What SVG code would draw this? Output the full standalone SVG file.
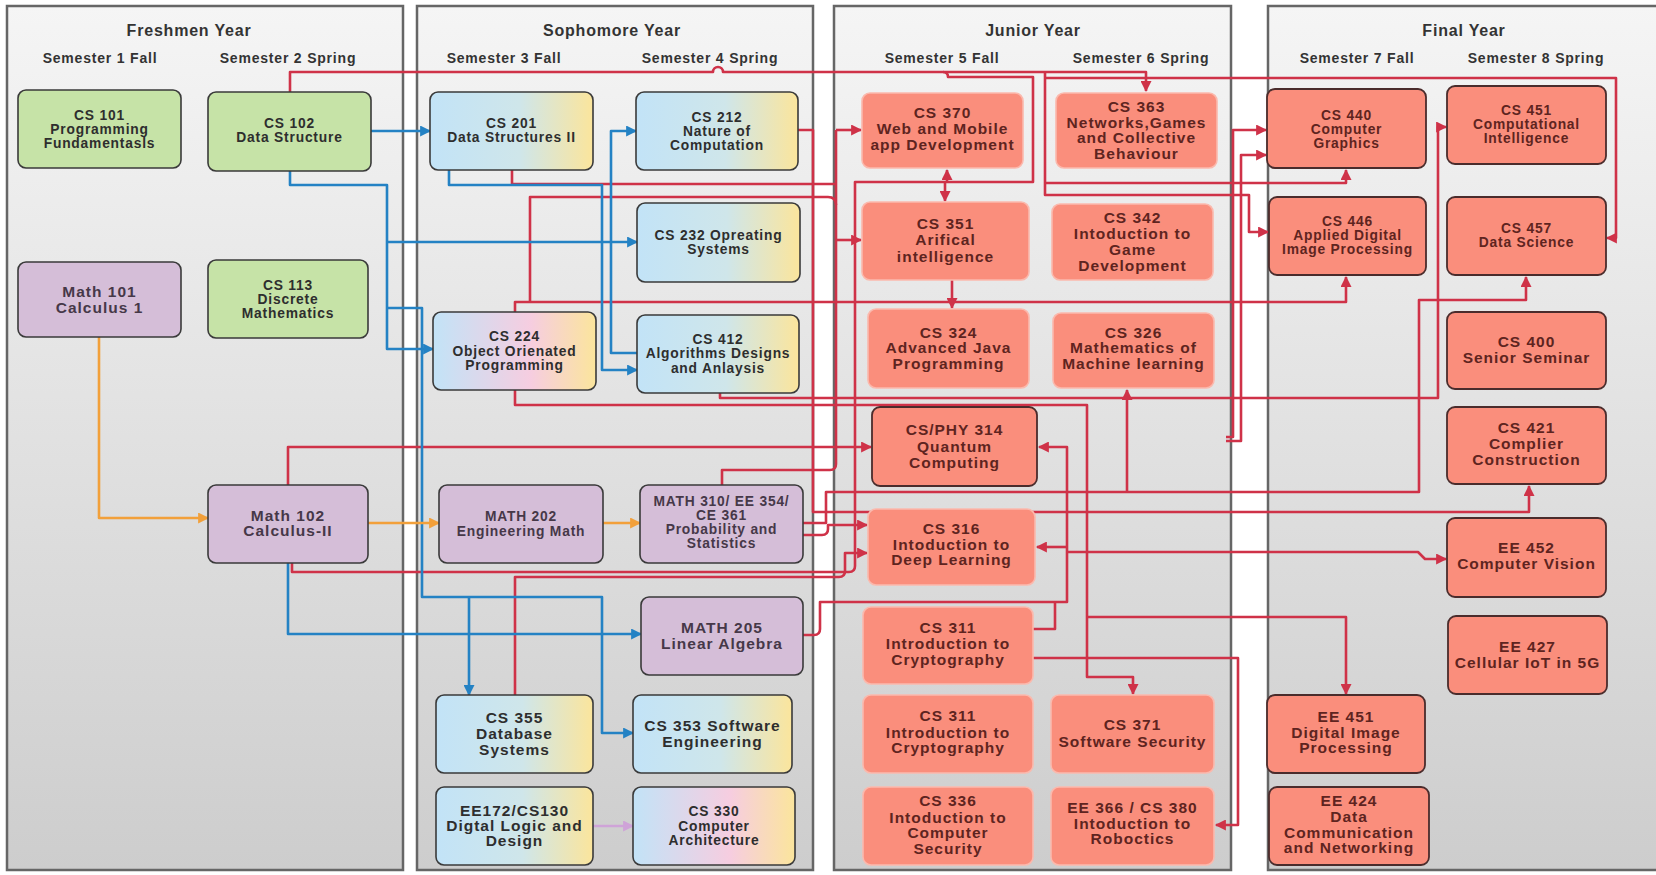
<svg xmlns="http://www.w3.org/2000/svg" width="1656" height="875" viewBox="0 0 1656 875">
<defs>
<linearGradient id="panel" x1="0" y1="0" x2="0" y2="1"><stop offset="0" stop-color="#f5f5f5"/><stop offset="1" stop-color="#cdcdcd"/></linearGradient>
<linearGradient id="by" x1="0" y1="0" x2="1" y2="0"><stop offset="0" stop-color="#c2e3f7"/><stop offset="0.55" stop-color="#cfe6ea"/><stop offset="1" stop-color="#fbe59c"/></linearGradient>
<linearGradient id="bpy" x1="0" y1="0" x2="1" y2="0"><stop offset="0" stop-color="#c2e3f7"/><stop offset="0.6" stop-color="#f6cde0"/><stop offset="1" stop-color="#fbe59c"/></linearGradient>
<marker id="ar" viewBox="0 0 10 10" refX="9" refY="5" markerWidth="14" markerHeight="11" markerUnits="userSpaceOnUse" orient="auto"><path d="M0,0 L10,5 L0,10 z" fill="#cf3248"/></marker>
<marker id="ab" viewBox="0 0 10 10" refX="9" refY="5" markerWidth="14" markerHeight="11" markerUnits="userSpaceOnUse" orient="auto"><path d="M0,0 L10,5 L0,10 z" fill="#2482c4"/></marker>
<marker id="ao" viewBox="0 0 10 10" refX="9" refY="5" markerWidth="14" markerHeight="11" markerUnits="userSpaceOnUse" orient="auto"><path d="M0,0 L10,5 L0,10 z" fill="#f2a03a"/></marker>
<marker id="ap" viewBox="0 0 10 10" refX="9" refY="5" markerWidth="14" markerHeight="11" markerUnits="userSpaceOnUse" orient="auto"><path d="M0,0 L10,5 L0,10 z" fill="#cfa3d8"/></marker>
</defs>
<style>
.panel{fill:url(#panel);stroke:#666;stroke-width:2.5}
.yt{font-family:"Liberation Sans",Arial,sans-serif;font-weight:bold;font-size:16px;letter-spacing:0.8px;fill:#333;text-anchor:middle}
.st{font-family:"Liberation Sans",Arial,sans-serif;font-weight:bold;font-size:14px;letter-spacing:0.8px;fill:#333;text-anchor:middle}
.n rect{stroke:#3a3a3a;stroke-width:1.6}
.g rect{fill:#c6e3a7}
.p rect{fill:#d5bed8}
.b rect{fill:url(#by)}
.bp rect{fill:url(#bpy)}
.j rect{fill:#fa8e7c;stroke:#fbb9ad;stroke-width:1.6}
.f rect{fill:#fa8e7c;stroke:#4a2c2c;stroke-width:1.8}
.n text{font-family:"Liberation Sans",Arial,sans-serif;font-weight:bold;font-size:13.8px;letter-spacing:0.8px;fill:#2e2e2e;text-anchor:middle;dominant-baseline:central}
.p text{fill:#463848}
.j text,.f text{fill:#5e2420}
.L text{font-size:15.5px;letter-spacing:1px}
.reg{font-weight:normal}
.c path{fill:none;stroke-width:2.6;stroke-linejoin:round}
.r{stroke:#cf3248}
.bl{stroke:#2482c4}
.o{stroke:#f2a03a}
.pu{stroke:#cfa3d8}
</style>
<g id="panels">
<rect class="panel" x="7" y="6" width="396" height="864"/>
<rect class="panel" x="417" y="6" width="396" height="864"/>
<rect class="panel" x="834" y="6" width="397" height="864"/>
<rect class="panel" x="1268" y="6" width="400" height="864"/>
<text class="yt" x="189" y="36">Freshmen Year</text>
<text class="st" x="100" y="63">Semester 1 Fall</text>
<text class="st" x="288" y="63">Semester 2 Spring</text>
<text class="yt" x="612" y="36">Sophomore Year</text>
<text class="st" x="504" y="63">Semester 3 Fall</text>
<text class="st" x="710" y="63">Semester 4 Spring</text>
<text class="yt" x="1033" y="36">Junior Year</text>
<text class="st" x="942" y="63">Semester 5 Fall</text>
<text class="st" x="1141" y="63">Semester 6 Spring</text>
<text class="yt" x="1464" y="36">Final Year</text>
<text class="st" x="1357" y="63">Semester 7 Fall</text>
<text class="st" x="1536" y="63">Semester 8 Spring</text>
</g>
<g id="connectors" class="c">
<path class="r" d="M290,92 V72 H713 A5,5 0 0 1 723,72 H1146 V91" marker-end="url(#ar)"/>
<path class="r" d="M943,72 Q948,72 948,77 H1033 V182 H855 V566 Q855,572 849,572 H292 V563"/>
<path class="r" d="M947,182 V170" marker-end="url(#ar)"/>
<path class="r" d="M945,182 V201" marker-end="url(#ar)"/>
<path class="r" d="M1045,72 V195 H1249 V232 H1268" marker-end="url(#ar)"/>
<path class="r" d="M1045,78 H1616 V238 H1607" marker-end="url(#ar)"/>
<path class="r" d="M512,170 V184 H836"/>
<path class="r" d="M1045,183 H1346 V170" marker-end="url(#ar)"/>
<path class="r" d="M836,130 V464 Q836,470 830,470 H722 V485"/>
<path class="r" d="M836,130 H861" marker-end="url(#ar)"/>
<path class="r" d="M836,240 H861" marker-end="url(#ar)"/>
<path class="r" d="M530,302 V197 H828 Q836,197 836,205"/>
<path class="r" d="M515,312 V302 H1346 V277" marker-end="url(#ar)"/>
<path class="r" d="M798,130 H813 V512 H1529 V486" marker-end="url(#ar)"/>
<path class="r" d="M720,393 V398 H1438 V127 H1446" marker-end="url(#ar)"/>
<path class="r" d="M515,390 V405 H1087 V677 H1133 V694" marker-end="url(#ar)"/>
<path class="r" d="M1087,617 H1346 V694" marker-end="url(#ar)"/>
<path class="r" d="M288,485 V447 H871" marker-end="url(#ar)"/>
<path class="r" d="M803,523 H826 V492 H1419 V300 H1526 V277" marker-end="url(#ar)"/>
<path class="r" d="M1127,492 V390" marker-end="url(#ar)"/>
<path class="r" d="M803,535 H822 Q828,535 828,529 V525 H867" marker-end="url(#ar)"/>
<path class="r" d="M515,695 V577 H839 Q845,577 845,571 V553 H867" marker-end="url(#ar)"/>
<path class="r" d="M803,635 H814 Q820,635 820,629 V602 H1067 V447 H1039" marker-end="url(#ar)"/>
<path class="r" d="M1067,547 H1037" marker-end="url(#ar)"/>
<path class="r" d="M1067,552 H1418 L1425,559 H1446" marker-end="url(#ar)"/>
<path class="r" d="M1033,629 H1055 V602"/>
<path class="r" d="M1033,658 H1238 V825 H1216" marker-end="url(#ar)"/>
<path class="r" d="M1226,437 H1233 V130 H1266" marker-end="url(#ar)"/>
<path class="r" d="M1226,441 H1241 V155 H1266" marker-end="url(#ar)"/>
<path class="r" d="M952,280 V308" marker-end="url(#ar)"/>
<path class="bl" d="M371,131 H430" marker-end="url(#ab)"/>
<path class="bl" d="M290,171 V185 H387 V349 H433" marker-end="url(#ab)"/>
<path class="bl" d="M387,242 H637" marker-end="url(#ab)"/>
<path class="bl" d="M387,308 H422 V597 H602 V733 H633" marker-end="url(#ab)"/>
<path class="bl" d="M469,597 V695" marker-end="url(#ab)"/>
<path class="bl" d="M449,170 V185 H602 V370 H637" marker-end="url(#ab)"/>
<path class="bl" d="M637,353 H611 V131 H636" marker-end="url(#ab)"/>
<path class="bl" d="M288,563 V634 H641" marker-end="url(#ab)"/>
<path class="o" d="M99,337 V518 H208" marker-end="url(#ao)"/>
<path class="o" d="M368,523 H439" marker-end="url(#ao)"/>
<path class="o" d="M603,523 H640" marker-end="url(#ao)"/>
<path class="pu" d="M593,826 H633" marker-end="url(#ap)"/>
</g>
<g id="cs101" class="n g"><rect x="18" y="90" width="163" height="78" rx="8"/><text x="99.5" y="115">CS 101</text><text x="99.5" y="129">Programming</text><text x="99.5" y="143">Fundamentasls</text></g>
<g id="cs102" class="n g"><rect x="208" y="92" width="163" height="79" rx="8"/><text x="289.5" y="123">CS 102</text><text x="289.5" y="137">Data Structure</text></g>
<g id="math101" class="n p L"><rect x="18" y="262" width="163" height="75" rx="8"/><text x="99.5" y="291">Math 101</text><text x="99.5" y="307">Calculus 1</text></g>
<g id="cs113" class="n g"><rect x="208" y="260" width="160" height="78" rx="8"/><text x="288" y="285">CS 113</text><text x="288" y="299">Discrete</text><text x="288" y="313">Mathematics</text></g>
<g id="math102" class="n p L"><rect x="208" y="485" width="160" height="78" rx="8"/><text x="288" y="515">Math 102</text><text x="288" y="530">Calculus-II</text></g>
<g id="cs201" class="n b"><rect x="430" y="92" width="163" height="78" rx="8"/><text x="511.5" y="123">CS 201</text><text x="511.5" y="137">Data Structures II</text></g>
<g id="cs212" class="n b"><rect x="636" y="92" width="162" height="78" rx="8"/><text x="717" y="117">CS 212</text><text x="717" y="131">Nature of</text><text x="717" y="145">Computation</text></g>
<g id="cs232" class="n b"><rect x="637" y="203" width="163" height="79" rx="8"/><text x="718.5" y="235">CS 232 Opreating</text><text x="718.5" y="249">Systems</text></g>
<g id="cs224" class="n bp"><rect x="433" y="312" width="163" height="78" rx="8"/><text x="514.5" y="336">CS 224</text><text x="514.5" y="351">Object Orienated</text><text x="514.5" y="365">Programming</text></g>
<g id="cs412" class="n b"><rect x="637" y="315" width="162" height="78" rx="8"/><text x="718" y="339">CS 412</text><text x="718" y="353">Algorithms Designs</text><text x="718" y="368">and Anlaysis</text></g>
<g id="math202" class="n p"><rect x="439" y="485" width="164" height="78" rx="8"/><text x="521" y="516">MATH 202</text><text x="521" y="531">Engineering Math</text></g>
<g id="math310" class="n p"><rect x="640" y="485" width="163" height="78" rx="8"/><text x="721.5" y="501">MATH 310/ EE 354/</text><text x="721.5" y="515">CE 361</text><text x="721.5" y="529">Probability and</text><text x="721.5" y="543">Statistics</text></g>
<g id="math205" class="n p L"><rect x="641" y="597" width="162" height="78" rx="8"/><text x="722" y="627">MATH 205</text><text class="reg" x="722" y="643">Linear Algebra</text></g>
<g id="cs355" class="n b L"><rect x="436" y="695" width="157" height="78" rx="8"/><text x="514.5" y="717">CS 355</text><text x="514.5" y="733">Database</text><text x="514.5" y="749">Systems</text></g>
<g id="cs353" class="n b L"><rect x="633" y="695" width="159" height="78" rx="8"/><text x="712.5" y="725">CS 353 Software</text><text x="712.5" y="741">Engineering</text></g>
<g id="ee172" class="n b L"><rect x="436" y="787" width="157" height="78" rx="8"/><text x="514.5" y="810">EE172/CS130</text><text x="514.5" y="825">Digtal Logic and</text><text x="514.5" y="840">Design</text></g>
<g id="cs330" class="n bp"><rect x="633" y="787" width="162" height="78" rx="8"/><text x="714" y="811">CS 330</text><text x="714" y="826">Computer</text><text x="714" y="840">Architecture</text></g>
<g id="cs370" class="n j L"><rect x="862" y="93" width="161" height="75" rx="8"/><text x="942.5" y="112">CS 370</text><text x="942.5" y="128">Web and Mobile</text><text x="942.5" y="144">app Development</text></g>
<g id="cs363" class="n j L"><rect x="1056" y="93" width="161" height="75" rx="8"/><text x="1136.5" y="106">CS 363</text><text x="1136.5" y="122">Networks,Games</text><text x="1136.5" y="137">and Collective</text><text x="1136.5" y="153">Behaviour</text></g>
<g id="cs351" class="n j L"><rect x="862" y="202" width="167" height="78" rx="8"/><text x="945.5" y="223">CS 351</text><text x="945.5" y="239">Arifical</text><text x="945.5" y="256">intelligence</text></g>
<g id="cs342" class="n j L"><rect x="1052" y="204" width="161" height="76" rx="8"/><text x="1132.5" y="217">CS 342</text><text x="1132.5" y="233">Intoduction to</text><text x="1132.5" y="249">Game</text><text x="1132.5" y="265">Development</text></g>
<g id="cs324" class="n j L"><rect x="868" y="309" width="161" height="79" rx="8"/><text x="948.5" y="332">CS 324</text><text x="948.5" y="347">Advanced Java</text><text x="948.5" y="363">Programming</text></g>
<g id="cs326" class="n j L"><rect x="1053" y="313" width="161" height="75" rx="8"/><text x="1133.5" y="332">CS 326</text><text x="1133.5" y="347">Mathematics of</text><text x="1133.5" y="363">Machine learning</text></g>
<g id="cs314" class="n f L"><rect x="872" y="407" width="165" height="79" rx="8"/><text x="954.5" y="429">CS/PHY 314</text><text x="954.5" y="446">Quantum</text><text x="954.5" y="462">Computing</text></g>
<g id="cs316" class="n j L"><rect x="868" y="509" width="167" height="76" rx="8"/><text x="951.5" y="528">CS 316</text><text x="951.5" y="544">Intoduction to</text><text x="951.5" y="559">Deep Learning</text></g>
<g id="cs311a" class="n j L"><rect x="863" y="607" width="170" height="77" rx="8"/><text x="948" y="627">CS 311</text><text x="948" y="643">Introduction to</text><text x="948" y="659">Cryptography</text></g>
<g id="cs311b" class="n j L"><rect x="863" y="695" width="170" height="78" rx="8"/><text x="948" y="715">CS 311</text><text x="948" y="732">Introduction to</text><text x="948" y="747">Cryptography</text></g>
<g id="cs371" class="n j L"><rect x="1051" y="695" width="163" height="78" rx="8"/><text x="1132.5" y="724">CS 371</text><text x="1132.5" y="741">Software Security</text></g>
<g id="cs336" class="n j L"><rect x="863" y="787" width="170" height="78" rx="8"/><text x="948" y="800">CS 336</text><text x="948" y="817">Intoduction to</text><text x="948" y="832">Computer</text><text x="948" y="848">Security</text></g>
<g id="ee366" class="n j L"><rect x="1051" y="787" width="163" height="78" rx="8"/><text x="1132.5" y="807">EE 366 / CS 380</text><text x="1132.5" y="823">Intoduction to</text><text x="1132.5" y="838">Roboctics</text></g>
<g id="cs440" class="n f"><rect x="1267" y="89" width="159" height="79" rx="8"/><text x="1346.5" y="115">CS 440</text><text x="1346.5" y="129">Computer</text><text x="1346.5" y="143">Graphics</text></g>
<g id="cs451" class="n f"><rect x="1447" y="86" width="159" height="78" rx="8"/><text x="1526.5" y="110">CS 451</text><text x="1526.5" y="124">Computational</text><text x="1526.5" y="138">Intelligence</text></g>
<g id="cs446" class="n f"><rect x="1269" y="197" width="157" height="78" rx="8"/><text x="1347.5" y="221">CS 446</text><text x="1347.5" y="235">Applied Digital</text><text x="1347.5" y="249">Image Processing</text></g>
<g id="cs457" class="n f"><rect x="1447" y="197" width="159" height="78" rx="8"/><text x="1526.5" y="228">CS 457</text><text x="1526.5" y="242">Data Science</text></g>
<g id="cs400" class="n f L"><rect x="1447" y="312" width="159" height="77" rx="8"/><text x="1526.5" y="341">CS 400</text><text x="1526.5" y="357">Senior Seminar</text></g>
<g id="cs421" class="n f L"><rect x="1447" y="407" width="159" height="77" rx="8"/><text x="1526.5" y="427">CS 421</text><text x="1526.5" y="443">Complier</text><text x="1526.5" y="459">Construction</text></g>
<g id="ee452" class="n f L"><rect x="1447" y="518" width="159" height="79" rx="8"/><text x="1526.5" y="547">EE 452</text><text x="1526.5" y="563">Computer Vision</text></g>
<g id="ee427" class="n f L"><rect x="1448" y="616" width="159" height="78" rx="8"/><text x="1527.5" y="646">EE 427</text><text x="1527.5" y="662">Cellular IoT in 5G</text></g>
<g id="ee451" class="n f L"><rect x="1267" y="695" width="158" height="78" rx="8"/><text x="1346" y="716">EE 451</text><text x="1346" y="732">Digital Image</text><text x="1346" y="747">Processing</text></g>
<g id="ee424" class="n f L"><rect x="1269" y="787" width="160" height="78" rx="8"/><text x="1349" y="800">EE 424</text><text x="1349" y="816">Data</text><text x="1349" y="832">Communication</text><text x="1349" y="847">and Networking</text></g>
</svg>
